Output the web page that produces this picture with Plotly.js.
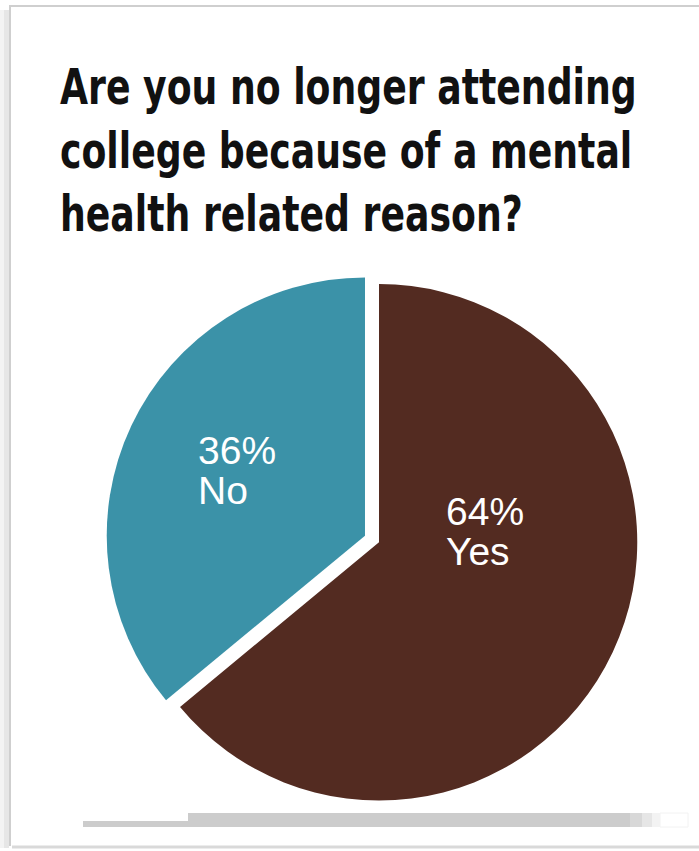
<!DOCTYPE html>
<html>
<head>
<meta charset="utf-8">
<script src="https://cdn.plot.ly/plotly-3.0.1.min.js"></script>
<style>
  html, body { margin: 0; padding: 0; background: #ffffff; }
  #chart { width: 699px; height: 851px; }
</style>
</head>
<body>
<div id="chart"></div>
<script>
// Data
const answers = ["Yes", "No"];
const shares = [64, 36];
const sliceColors = ["#532b21", "#3b92a8"];
const titleLines = ["Are you no longer attending", "college because of a mental", "health related reason?"];

const W = 699, H = 851;
const px = v => v / W;
const py = v => 1 - v / H;

const trace = {
  type: "pie",
  labels: answers,
  values: shares,
  sort: false,
  direction: "clockwise",
  rotation: 0,
  pull: [0.03, 0.03],
  marker: { colors: sliceColors, line: { width: 0 } },
  textinfo: "none",
  hoverinfo: "label+percent",
  showlegend: false,
  domain: { x: [px(106), px(638)], y: [py(805), py(273)] }
};

// slice label placement (left edge, cap-middle of the two lines)
const labelSpots = [
  { x: 445, yTop: 511, yBottom: 551 },   // Yes
  { x: 197, yTop: 450, yBottom: 490 }    // No
];
const labelFont = { family: "Liberation Sans, Arial, sans-serif", size: 39, color: "#ffffff" };
const annotations = [];
answers.forEach((name, i) => {
  const spot = labelSpots[i];
  annotations.push({ xref: "paper", yref: "paper", x: px(spot.x), y: py(spot.yTop), xanchor: "left", yanchor: "middle",
    text: shares[i] + "%", showarrow: false, font: labelFont, borderpad: 0 });
  annotations.push({ xref: "paper", yref: "paper", x: px(spot.x), y: py(spot.yBottom), xanchor: "left", yanchor: "middle",
    text: name, showarrow: false, font: labelFont, borderpad: 0 });
});

const greyLine = "#cfcfcf";
const shapes = [
  { type: "rect", xref: "paper", yref: "paper", x0: px(0), x1: px(4), y0: py(10), y1: py(848), fillcolor: "#f3f3f3", line: { width: 0 }, layer: "below" },
  { type: "rect", xref: "paper", yref: "paper", x0: px(4), x1: px(9), y0: py(10), y1: py(848), fillcolor: "#e6e6e6", line: { width: 0 }, layer: "below" },
  { type: "line", xref: "paper", yref: "paper", x0: px(9), x1: px(699), y0: py(6), y1: py(6), line: { color: greyLine, width: 2 } },
  { type: "line", xref: "paper", yref: "paper", x0: px(10), x1: px(10), y0: py(6), y1: py(846), line: { color: greyLine, width: 2 } },
  { type: "line", xref: "paper", yref: "paper", x0: px(12), x1: px(699), y0: py(847), y1: py(847), line: { color: "#d9d9d9", width: 3 } },
  { type: "rect", xref: "paper", yref: "paper", x0: px(83), x1: px(188), y0: py(827), y1: py(821), fillcolor: "#cccccc", line: { width: 0 } },
  { type: "rect", xref: "paper", yref: "paper", x0: px(188), x1: px(630), y0: py(827), y1: py(813), fillcolor: "#cccccc", line: { width: 0 } },
  { type: "rect", xref: "paper", yref: "paper", x0: px(630), x1: px(642), y0: py(827), y1: py(813), fillcolor: "#d8d8d8", line: { width: 0 } },
  { type: "rect", xref: "paper", yref: "paper", x0: px(642), x1: px(652), y0: py(827), y1: py(813), fillcolor: "#e6e6e6", line: { width: 0 } },
  { type: "rect", xref: "paper", yref: "paper", x0: px(652), x1: px(660), y0: py(827), y1: py(813), fillcolor: "#f3f3f3", line: { width: 0 } },
  { type: "rect", xref: "paper", yref: "paper", x0: px(660), x1: px(688), y0: py(827), y1: py(813), fillcolor: "rgba(0,0,0,0)", line: { color: "#f2f2f2", width: 1 } }
];

const layout = {
  width: W,
  height: H,
  margin: { l: 0, r: 0, t: 0, b: 0 },
  paper_bgcolor: "#ffffff",
  plot_bgcolor: "#ffffff",
  title: {
    text: "<b>" + titleLines.join("<br>") + "</b>",
    xref: "container", yref: "container",
    x: px(60), xanchor: "left",
    y: py(104), yanchor: "top",
    font: { family: "DejaVu Sans Condensed, DejaVu Sans, sans-serif", size: 49, color: "#111111" }
  },
  annotations: annotations,
  shapes: shapes,
  showlegend: false
};

Plotly.newPlot("chart", [trace], layout, { staticPlot: true, displayModeBar: false }).then(gd => {
  // condense the title horizontally to match the narrow headline face
  const g = gd.querySelector(".g-gtitle");
  if (!g) return;
  const t = g.querySelector("text");
  if (!t) return;
  const bb = t.getBBox();
  const targetLeft = 60, targetWidth = 577;
  const s = targetWidth / bb.width;
  g.setAttribute("transform", "translate(" + (targetLeft - s * bb.x) + ",0) scale(" + s + ",1)");
});
</script>
</body>
</html>
